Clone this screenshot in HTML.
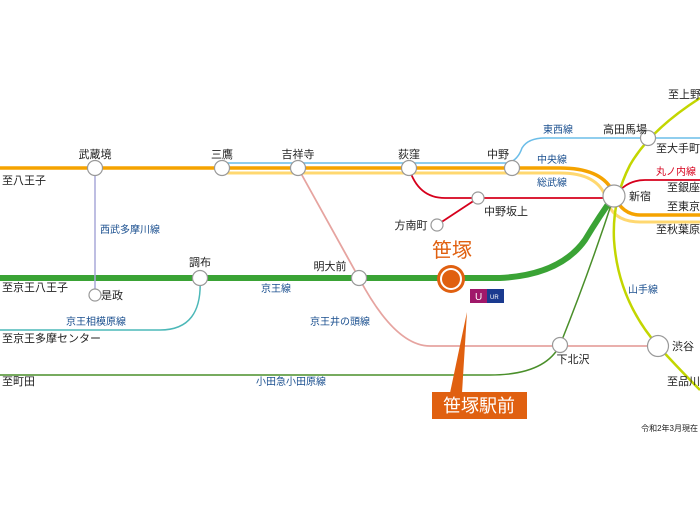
<!DOCTYPE html>
<html><head><meta charset="utf-8"><style>
body{margin:0;background:#fff}
svg{display:block}
text{font-family:"Liberation Sans","Noto Sans CJK JP",sans-serif}
.s{font-size:11px;fill:#222}
.b{font-size:10px;fill:#1a4f8f}
</style></head><body>
<svg width="700" height="525" viewBox="0 0 700 525">
<!-- Tozai blue -->
<path d="M222 163 H508 Q518 160 522 148 Q528 138 545 138 H700" fill="none" stroke="#6bbde8" stroke-width="1.5"/>
<!-- Sobu yellow -->
<path d="M222 173 H560 Q598 173 606 198 Q612 222 640 222 H700" fill="none" stroke="#ffd870" stroke-width="3"/>
<!-- Chuo orange -->
<path d="M0 168 H560 Q600 168 612 190 Q620 215 640 215 H700" fill="none" stroke="#f5a300" stroke-width="3.5"/>
<!-- Marunouchi red -->
<path d="M409 168 Q418 198 445 198 H614 Q625 180 645 180 H700" fill="none" stroke="#d6001c" stroke-width="1.8"/>
<path d="M437 225 L478 198" stroke="#d6001c" stroke-width="1.8"/>
<!-- Yamanote -->
<path d="M700 98 Q650 130 630 165 Q612 200 614 240 Q618 300 658 346 Q680 370 700 390" fill="none" stroke="#c3d600" stroke-width="2.5"/>
<!-- Keio green -->
<path d="M0 278 H500 Q560 275 585 240 Q600 215 614 196" fill="none" stroke="#3aa335" stroke-width="6"/>
<!-- Odakyu -->
<path d="M0 375 H490 Q545 375 560 345 Q590 270 614 196" fill="none" stroke="#4a8f2a" stroke-width="1.5"/>
<!-- Inokashira -->
<path d="M298 168 L359 278 Q395 346 430 346 H658" fill="none" stroke="#e6a4a0" stroke-width="1.8"/>
<!-- Seibu Tamagawa -->
<path d="M95 168 V295" stroke="#a8a8d8" stroke-width="1.5"/>
<!-- Keio Sagamihara -->
<path d="M200 278 Q203 330 160 330 H0" fill="none" stroke="#4cb8b8" stroke-width="1.5"/>
<!-- stations -->
<g fill="#fff" stroke="#999" stroke-width="1.2">
<circle cx="95" cy="168" r="7.5"/><circle cx="222" cy="168" r="7.5"/><circle cx="298" cy="168" r="7.5"/>
<circle cx="409" cy="168" r="7.5"/><circle cx="512" cy="168" r="7.5"/><circle cx="614" cy="196" r="11"/>
<circle cx="648" cy="138" r="7.5"/><circle cx="478" cy="198" r="6"/><circle cx="437" cy="225" r="6"/>
<circle cx="359" cy="278" r="7.5"/><circle cx="200" cy="278" r="7.5"/><circle cx="95" cy="295" r="6"/>
<circle cx="560" cy="345" r="7.5"/><circle cx="658" cy="346" r="10.5"/>
</g>
<circle cx="451" cy="279" r="14" fill="#e06010"/><circle cx="451" cy="279" r="11" fill="#fff"/><circle cx="451" cy="279" r="9" fill="#e06010"/>
<!-- logo -->
<rect x="470" y="289" width="17" height="14" fill="#a0186a"/><rect x="487" y="289" width="17" height="14" fill="#1a3a8f"/>
<text x="475" y="300" font-size="10" fill="#fff">U</text><text x="490" y="299" font-size="6" fill="#fff">UR</text>
<!-- callout -->
<path d="M467 312 L450 393 H462 Z" fill="#e06010"/>
<rect x="432" y="392" width="95" height="27" fill="#e06010"/>
<text x="479" y="412" font-size="18" fill="#fff" text-anchor="middle">笹塚駅前</text>
<text x="452" y="257" font-size="20" fill="#e06010" text-anchor="middle">笹塚</text>
<!-- station labels -->
<g class="s" text-anchor="middle">
<text x="95" y="158">武蔵境</text><text x="222" y="158">三鷹</text><text x="298" y="158">吉祥寺</text>
<text x="409" y="158">荻窪</text><text x="498" y="158">中野</text><text x="625" y="133">高田馬場</text>
<text x="506" y="215">中野坂上</text><text x="411" y="229">方南町</text><text x="640" y="200">新宿</text>
<text x="330" y="270">明大前</text><text x="200" y="266">調布</text><text x="112" y="299">是政</text>
<text x="573" y="363">下北沢</text><text x="683" y="350">渋谷</text>
</g>
<g class="s">
<text x="2" y="184">至八王子</text><text x="2" y="291">至京王八王子</text><text x="2" y="342">至京王多摩センター</text>
<text x="2" y="385">至町田</text><text x="668" y="98">至上野</text><text x="656" y="152">至大手町</text>
<text x="667" y="191">至銀座</text><text x="667" y="210">至東京</text><text x="656" y="233">至秋葉原</text>
<text x="667" y="385">至品川</text>
</g>
<g class="b">
<text x="543" y="133">東西線</text><text x="537" y="163">中央線</text><text x="537" y="186">総武線</text>
<text x="656" y="175" fill="#d6001c">丸ノ内線</text><text x="628" y="293">山手線</text>
<text x="100" y="233">西武多摩川線</text><text x="261" y="292">京王線</text><text x="66" y="325">京王相模原線</text>
<text x="310" y="325">京王井の頭線</text><text x="256" y="385">小田急小田原線</text>
</g>
<text x="698" y="431" font-size="8" fill="#222" text-anchor="end">令和2年3月現在</text>
</svg>
</body></html>
